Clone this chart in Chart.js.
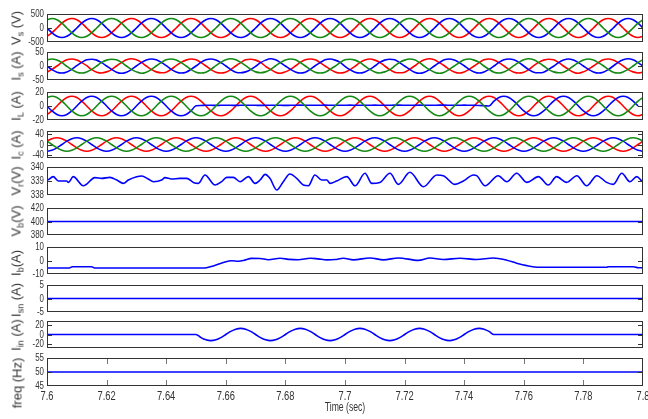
<!DOCTYPE html>
<html>
<head>
<meta charset="utf-8">
<script src="https://cdn.jsdelivr.net/npm/chart.js@4.4.0/dist/chart.umd.min.js"></script>
<style>
  body { margin: 0; background: #fff; width: 648px; height: 419px; position: relative; overflow: hidden; }
  canvas { position: absolute; left: 0; }
  .ylab { position: absolute; transform: translate(-50%, -50%) rotate(-90deg); white-space: nowrap;
          font: 13px "Liberation Sans", Arial, sans-serif; color: #333; }
  .ylab sub { font-size: 9px; vertical-align: -3px; }
</style>
</head>
<body>
<script>
// ---- data ----
const xTicks = [7.6, 7.62, 7.64, 7.66, 7.68, 7.7, 7.72, 7.74, 7.76, 7.78, 7.8];

// three-phase traces are sampled every 1/600 s (121 samples, 7.6 .. 7.8)
const tGrid = Array.from({length: 121}, (_, i) => 7.6 + i / 600);

const vsRed = [
  -294,-170,0,170,294,339,294,170,0,-170,-294,-339,
  -294,-170,0,170,294,339,294,170,0,-170,-294,-339,
  -294,-170,0,170,294,339,294,170,0,-170,-294,-339,
  -294,-170,0,170,294,339,294,170,0,-170,-294,-339,
  -294,-170,0,170,294,339,294,170,0,-170,-294,-339,
  -294,-170,0,170,294,339,294,170,0,-170,-294,-339,
  -294,-170,0,170,294,339,294,170,0,-170,-294,-339,
  -294,-170,0,170,294,339,294,170,0,-170,-294,-339,
  -294,-170,0,170,294,339,294,170,0,-170,-294,-339,
  -294,-170,0,170,294,339,294,170,0,-170,-294,-339,
  -294];
const vsGreen = [
  294,339,294,170,0,-170,-294,-339,-294,-170,0,170,
  294,339,294,170,0,-170,-294,-339,-294,-170,0,170,
  294,339,294,170,0,-170,-294,-339,-294,-170,0,170,
  294,339,294,170,0,-170,-294,-339,-294,-170,0,170,
  294,339,294,170,0,-170,-294,-339,-294,-170,0,170,
  294,339,294,170,0,-170,-294,-339,-294,-170,0,170,
  294,339,294,170,0,-170,-294,-339,-294,-170,0,170,
  294,339,294,170,0,-170,-294,-339,-294,-170,0,170,
  294,339,294,170,0,-170,-294,-339,-294,-170,0,170,
  294,339,294,170,0,-170,-294,-339,-294,-170,0,170,
  294];
const vsBlue = [
  0,-170,-294,-339,-294,-170,0,170,294,339,294,170,
  0,-170,-294,-339,-294,-170,0,170,294,339,294,170,
  0,-170,-294,-339,-294,-170,0,170,294,339,294,170,
  0,-170,-294,-339,-294,-170,0,170,294,339,294,170,
  0,-170,-294,-339,-294,-170,0,170,294,339,294,170,
  0,-170,-294,-339,-294,-170,0,170,294,339,294,170,
  0,-170,-294,-339,-294,-170,0,170,294,339,294,170,
  0,-170,-294,-339,-294,-170,0,170,294,339,294,170,
  0,-170,-294,-339,-294,-170,0,170,294,339,294,170,
  0,-170,-294,-339,-294,-170,0,170,294,339,294,170,
  0];

const isRed = [
  -22,-12,0,13,22,25,21,12,1,-13,-22,-25,
  -21,-13,0,12,22,26,22,13,0,-12,-21,-24,
  -22,-12,1,13,21,25,22,12,0,-13,-22,-25,
  -22,-13,0,12,22,24,21,13,-1,-12,-22,-26,
  -21,-12,0,13,22,25,22,12,0,-12,-21,-25,
  -22,-13,-1,12,21,25,21,13,0,-13,-22,-24,
  -22,-12,0,13,22,26,22,12,1,-12,-21,-25,
  -21,-12,0,12,22,25,21,12,0,-13,-22,-25,
  -22,-13,1,13,21,24,22,13,0,-12,-22,-26,
  -21,-12,0,12,22,25,21,12,0,-13,-21,-25,
  -22];
const isGreen = [
  22,25,21,12,-1,-13,-22,-25,-21,-12,0,13,
  21,24,22,13,0,-12,-21,-26,-22,-13,0,12,
  22,25,21,12,0,-13,-22,-25,-22,-12,1,13,
  22,26,22,13,1,-12,-21,-24,-21,-13,0,12,
  21,25,22,12,0,-13,-22,-25,-22,-12,-1,12,
  22,24,21,13,0,-12,-21,-25,-21,-13,0,13,
  21,25,22,12,-1,-13,-22,-26,-22,-12,0,12,
  22,25,21,13,0,-12,-22,-25,-21,-12,1,13,
  22,26,22,12,0,-13,-21,-24,-22,-13,0,12,
  21,25,21,12,1,-12,-22,-25,-21,-12,0,13,
  22];
const isBlue = [
  0,-13,-22,-25,-21,-12,1,13,22,24,21,12,
  0,-12,-22,-26,-22,-13,0,12,21,25,22,13,
  1,-12,-21,-25,-22,-12,0,13,22,25,21,12,
  0,-13,-22,-24,-21,-13,-1,12,21,26,22,12,
  0,-12,-21,-25,-22,-12,1,12,22,25,21,13,
  -1,-13,-22,-25,-21,-12,0,13,21,24,22,12,
  0,-12,-22,-26,-22,-13,0,12,22,25,21,12,
  1,-12,-21,-25,-21,-12,0,13,22,25,22,13,
  0,-13,-22,-24,-22,-12,-1,12,21,25,21,12,
  0,-12,-21,-25,-22,-13,0,13,22,26,22,12,
  0];

const ilRed = [
  -12.1,-7,0,7,12.1,14,12.1,7,0,-7,-12.1,-14,
  -12.1,-7,0,7,12.1,14,12.1,7,0,-7,-12.1,-14,
  -12.1,-7,0,7,12.1,14,12.1,7,0,-7,-12.1,-14,
  -12.1,-7,0,7,12.1,14,12.1,7,0,-7,-12.1,-14,
  -12.1,-7,0,7,12.1,14,12.1,7,0,-7,-12.1,-14,
  -12.1,-7,0,7,12.1,14,12.1,7,0,-7,-12.1,-14,
  -12.1,-7,0,7,12.1,14,12.1,7,0,-7,-12.1,-14,
  -12.1,-7,0,7,12.1,14,12.1,7,0,-7,-12.1,-14,
  -12.1,-7,0,7,12.1,14,12.1,7,0,-7,-12.1,-14,
  -12.1,-7,0,7,12.1,14,12.1,7,0,-7,-12.1,-14,
  -12.1];
const ilGreen = [
  12.1,14,12.1,7,0,-7,-12.1,-14,-12.1,-7,0,7,
  12.1,14,12.1,7,0,-7,-12.1,-14,-12.1,-7,0,7,
  12.1,14,12.1,7,0,-7,-12.1,-14,-12.1,-7,0,7,
  12.1,14,12.1,7,0,-7,-12.1,-14,-12.1,-7,0,7,
  12.1,14,12.1,7,0,-7,-12.1,-14,-12.1,-7,0,7,
  12.1,14,12.1,7,0,-7,-12.1,-14,-12.1,-7,0,7,
  12.1,14,12.1,7,0,-7,-12.1,-14,-12.1,-7,0,7,
  12.1,14,12.1,7,0,-7,-12.1,-14,-12.1,-7,0,7,
  12.1,14,12.1,7,0,-7,-12.1,-14,-12.1,-7,0,7,
  12.1,14,12.1,7,0,-7,-12.1,-14,-12.1,-7,0,7,
  12.1];
// blue load phase is open between 7.65 s and 7.75 s
const ilBlue = [
  0,-7,-12.1,-14,-12.1,-7,0,7,12.1,14,12.1,7,
  0,-7,-12.1,-14,-12.1,-7,0,7,12.1,14,12.1,7,
  0,-7,-12.1,-14,-12.1,-7,
  0.4,0.8,1,1,0.9,1,1.1,1,0.9,1,1,1.1,
  1,0.9,1,1.1,1,1,0.9,1,1.1,1.2,1.1,1,
  1,1.1,1.2,1.1,1,1,1.1,1.2,1.1,1,1,1.1,
  1.2,1.1,1,1.1,1.2,1.2,1.1,1,1.1,1.2,1.1,1,
  1.1,1.2,1.2,1.1,1,1.1,1.2,1.1,1,0.8,0.4,0,
  7,12.1,14,12.1,7,
  0,-7,-12.1,-14,-12.1,-7,0,7,12.1,14,12.1,7,
  0,-7,-12.1,-14,-12.1,-7,0,7,12.1,14,12.1,7,
  0];

const icRed = [
  12.5,21.7,25,21.7,12.5,0,-12.5,-21.7,-25,-21.7,-12.5,0,
  12.5,21.7,25,21.7,12.5,0,-12.5,-21.7,-25,-21.7,-12.5,0,
  12.5,21.7,25,21.7,12.5,0,-12.5,-21.7,-25,-21.7,-12.5,0,
  12.5,21.7,25,21.7,12.5,0,-12.5,-21.7,-25,-21.7,-12.5,0,
  12.5,21.7,25,21.7,12.5,0,-12.5,-21.7,-25,-21.7,-12.5,0,
  12.5,21.7,25,21.7,12.5,0,-12.5,-21.7,-25,-21.7,-12.5,0,
  12.5,21.7,25,21.7,12.5,0,-12.5,-21.7,-25,-21.7,-12.5,0,
  12.5,21.7,25,21.7,12.5,0,-12.5,-21.7,-25,-21.7,-12.5,0,
  12.5,21.7,25,21.7,12.5,0,-12.5,-21.7,-25,-21.7,-12.5,0,
  12.5,21.7,25,21.7,12.5,0,-12.5,-21.7,-25,-21.7,-12.5,0,
  12.5];
const icGreen = [
  12.5,0,-12.5,-21.7,-25,-21.7,-12.5,0,12.5,21.7,25,21.7,
  12.5,0,-12.5,-21.7,-25,-21.7,-12.5,0,12.5,21.7,25,21.7,
  12.5,0,-12.5,-21.7,-25,-21.7,-12.5,0,12.5,21.7,25,21.7,
  12.5,0,-12.5,-21.7,-25,-21.7,-12.5,0,12.5,21.7,25,21.7,
  12.5,0,-12.5,-21.7,-25,-21.7,-12.5,0,12.5,21.7,25,21.7,
  12.5,0,-12.5,-21.7,-25,-21.7,-12.5,0,12.5,21.7,25,21.7,
  12.5,0,-12.5,-21.7,-25,-21.7,-12.5,0,12.5,21.7,25,21.7,
  12.5,0,-12.5,-21.7,-25,-21.7,-12.5,0,12.5,21.7,25,21.7,
  12.5,0,-12.5,-21.7,-25,-21.7,-12.5,0,12.5,21.7,25,21.7,
  12.5,0,-12.5,-21.7,-25,-21.7,-12.5,0,12.5,21.7,25,21.7,
  12.5];
const icBlue = [
  -25,-21.7,-12.5,0,12.5,21.7,25,21.7,12.5,0,-12.5,-21.7,
  -25,-21.7,-12.5,0,12.5,21.7,25,21.7,12.5,0,-12.5,-21.7,
  -25,-21.7,-12.5,0,12.5,21.7,25,21.7,12.5,0,-12.5,-21.7,
  -25,-21.7,-12.5,0,12.5,21.7,25,21.7,12.5,0,-12.5,-21.7,
  -25,-21.7,-12.5,0,12.5,21.7,25,21.7,12.5,0,-12.5,-21.7,
  -25,-21.7,-12.5,0,12.5,21.7,25,21.7,12.5,0,-12.5,-21.7,
  -25,-21.7,-12.5,0,12.5,21.7,25,21.7,12.5,0,-12.5,-21.7,
  -25,-21.7,-12.5,0,12.5,21.7,25,21.7,12.5,0,-12.5,-21.7,
  -25,-21.7,-12.5,0,12.5,21.7,25,21.7,12.5,0,-12.5,-21.7,
  -25,-21.7,-12.5,0,12.5,21.7,25,21.7,12.5,0,-12.5,-21.7,
  -25];

// load neutral current, on the same grid
const iinVals = [
  0,0,0,0,0,0,0,0,0,0,0,0,
  0,0,0,0,0,0,0,0,0,0,0,0,
  0,0,0,0,0,0,
  0,-6.3,-10.8,-12.5,-10.8,-6.3,0,6.3,10.8,12.5,10.8,6.3,
  0,-6.3,-10.8,-12.5,-10.8,-6.3,0,6.3,10.8,12.5,10.8,6.3,
  0,-6.3,-10.8,-12.5,-10.8,-6.3,0,6.3,10.8,12.5,10.8,6.3,
  0,-6.3,-10.8,-12.5,-10.8,-6.3,0,6.3,10.8,12.5,10.8,6.3,
  0,-6.3,-10.8,-12.5,-10.8,-6.3,0,6.3,10.8,12.5,10.8,6.3,
  0,0,0,0,0,0,
  0,0,0,0,0,0,0,0,0,0,0,0,
  0,0,0,0,0,0,0,0,0,0,0,0,
  0];

const vrTime = [7.6004,7.6021,7.6038,7.6066,7.6072,7.6088,7.6122,7.6161,7.6184,7.6211,7.6234,7.6256,
  7.6273,7.6301,7.6318,7.634,7.6357,7.6385,7.6396,7.6418,7.6446,7.6469,7.6491,7.6508,7.653,7.6564,
  7.6586,7.6603,7.6625,7.6648,7.6676,7.6698,7.6715,7.6732,7.6748,7.6771,7.6793,7.6815,7.6838,7.686,
  7.6877,7.6899,7.6922,7.6939,7.695,7.6972,7.7006,7.7034,7.7067,7.709,7.7117,7.7151,7.7179,7.7218,
  7.7263,7.7308,7.733,7.7369,7.7397,7.7431,7.7442,7.747,7.7514,7.7543,7.7576,7.761,7.7649,7.7682,
  7.771,7.7744,7.7778,7.7811,7.7845,7.7878,7.79,7.7929,7.7956,7.7979,7.7996];
const vrVals = [339.07,339.31,339.0,339.0,338.9,339.31,338.66,339.24,339.19,339.26,339.07,338.83,
  339.07,339.31,339.36,339.14,338.95,339.07,339.24,339.14,339.19,339.19,338.9,338.83,339.43,338.71,
  338.95,339.26,339.26,338.95,339.31,338.83,339.07,339.47,339.19,338.36,338.95,339.5,339.19,338.71,
  338.66,339.43,339.07,339.07,338.83,339.0,339.31,338.66,339.55,338.83,338.9,339.55,338.76,339.62,
  338.59,339.43,339.38,338.76,339.0,339.43,339.38,338.66,339.38,338.95,339.55,338.9,339.31,338.71,
  339.31,338.9,339.38,338.66,339.38,338.9,338.76,339.55,338.95,339.31,339.0];

const vbTime = [7.6, 7.8];
const vbVals = [400, 400];

const ibTime = [7.6,7.6075,7.6085,7.615,7.616,7.653,7.6558,7.6592,7.662,7.6642,7.6659,7.6687,7.6715,
  7.6743,7.6782,7.6815,7.6843,7.6883,7.691,7.6939,7.6966,7.6994,7.7028,7.7084,7.7129,7.7179,7.7246,
  7.7285,7.733,7.7386,7.7442,7.7498,7.7543,7.7576,7.761,7.7654,7.7878,7.7884,7.7968,7.7984,7.8];
const ibVals = [-5.5,-5.5,-4.6,-4.6,-5.5,-5.5,-4.0,-1.5,-0.2,-0.5,0.0,1.6,1.5,
  0.6,1.7,0.8,0.6,1.7,1.2,0.5,0.7,1.7,0.5,1.9,0.5,1.9,0.1,
  1.8,0.7,1.7,0.7,1.9,0.2,-2.0,-3.8,-5.0,-5.0,-4.6,-4.6,-5.4,-5.4];

const isnTime = [7.6, 7.8];
const isnVals = [0, 0];
const freqTime = [7.6, 7.8];
const freqVals = [50, 50];

const vsTicks = [-500, 0, 500];
const isTicks = [-50, 0, 50];
const ilTicks = [-20, 0, 20];
const icTicks = [-40, 0, 40];
const vrTicks = [338, 339, 340];
const vbTicks = [380, 400, 420];
const ibTicks = [-10, 0, 10];
const isnTicks = [-5, 0, 5];
const iinTicks = [-20, 0, 20];
const freqTicks = [45, 50, 55];

// ---- drawing ----
const RED = '#ff0000', GREEN = '#138a13', BLUE = '#0000ff';
const PLOT_L = 47, PLOT_R = 643, PAD = 9, XAXIS_H = 33;
const TXT = '#333';

const panels = [
  {box: [14, 42], min: -500, max: 500, ticks: vsTicks, lab: 'V<sub>s</sub> (V)', labY: 28,
   lines: [[tGrid, vsGreen, GREEN], [tGrid, vsBlue, BLUE], [tGrid, vsRed, RED]]},
  {box: [52, 80], min: -50, max: 50, ticks: isTicks, lab: 'I<sub>s</sub> (A)', labY: 66,
   lines: [[tGrid, isGreen, GREEN], [tGrid, isBlue, BLUE], [tGrid, isRed, RED]]},
  {box: [92, 120], min: -20, max: 20, ticks: ilTicks, lab: 'I<sub>L</sub> (A)', labY: 106,
   lines: [[tGrid, ilGreen, GREEN], [tGrid, ilBlue, BLUE], [tGrid, ilRed, RED]]},
  {box: [131, 158], min: -50, max: 50, ticks: icTicks, lab: 'I<sub>c</sub> (A)', labY: 145,
   lines: [[tGrid, icGreen, GREEN], [tGrid, icBlue, BLUE], [tGrid, icRed, RED]]},
  {box: [167, 195], min: 338, max: 340, ticks: vrTicks, lab: 'V<sub>r</sub>(V)', labY: 181,
   lines: [[vrTime, vrVals, BLUE]]},
  {box: [208, 235], min: 380, max: 420, ticks: vbTicks, lab: 'V<sub>b</sub>(V)', labY: 221,
   lines: [[vbTime, vbVals, BLUE]]},
  {box: [247, 274], min: -10, max: 10, ticks: ibTicks, lab: 'I<sub>b</sub>(A)', labY: 263,
   lines: [[ibTime, ibVals, BLUE]]},
  {box: [285, 312], min: -5, max: 5, ticks: isnTicks, lab: 'I<sub>sn</sub> (A)', labY: 300,
   lines: [[isnTime, isnVals, BLUE]]},
  {box: [321, 348], min: -27.5, max: 27.5, ticks: iinTicks, lab: 'I<sub>in</sub> (A)', labY: 335,
   lines: [[tGrid, iinVals, BLUE]]},
  {box: [358, 386], min: 45, max: 55, ticks: freqTicks, lab: 'freq (Hz)', labY: 383,
   lines: [[freqTime, freqVals, BLUE]], last: true}
];

// condensed label text, like the narrow font of the original
function narrowText(ctx, txt, x, y, size, align) {
  ctx.save();
  ctx.font = size + 'px "Liberation Sans", Arial, sans-serif';
  ctx.fillStyle = TXT;
  ctx.textBaseline = 'middle';
  ctx.textAlign = align;
  ctx.translate(x, y);
  ctx.scale(0.72, 1);
  ctx.fillText(txt, 0, 0);
  ctx.restore();
}

// box, inward ticks and tick labels of one panel
const frame = {
  id: 'frame',
  afterDraw(chart, args, o) {
    const {ctx, chartArea: a} = chart;
    const ys = chart.scales.y, xs = chart.scales.x;
    ctx.save();
    ctx.strokeStyle = '#333';
    ctx.lineWidth = 1;
    ctx.beginPath();
    o.yTicks.forEach(v => {
      const py = ys.getPixelForValue(v);
      narrowText(ctx, String(v), a.left - 3, py, 11, 'right');
      const y = Math.round(py) + 0.5;
      if (y < a.top + 2 || y > a.bottom - 2) return;
      ctx.moveTo(a.left, y); ctx.lineTo(a.left + 5, y);
      ctx.moveTo(a.right - 5, y); ctx.lineTo(a.right, y);
    });
    ctx.stroke();
    if (o.xTicks) {
      ctx.strokeStyle = '#777';
      ctx.beginPath();
      o.xTicks.forEach(v => {
        const px = xs.getPixelForValue(v);
        narrowText(ctx, String(v), px, a.bottom + 10, 13, 'center');
        const x = Math.round(px) + 0.5;
        if (x < a.left + 2 || x > a.right - 2) return;
        ctx.moveTo(x, a.top); ctx.lineTo(x, a.top + 6);
        ctx.moveTo(x, a.bottom); ctx.lineTo(x, a.bottom - 6);
      });
      ctx.stroke();
      narrowText(ctx, 'Time (sec)', (a.left + a.right) / 2, a.bottom + 22, 12, 'center');
    }
    ctx.strokeStyle = '#333';
    ctx.strokeRect(Math.round(a.left) + 0.5, Math.round(a.top) + 0.5,
                   Math.round(a.right - a.left) - 1, Math.round(a.bottom - a.top) - 1);
    ctx.restore();
  }
};

panels.forEach(p => {
  const top = p.box[0] - PAD;
  const h = p.box[1] - p.box[0] + PAD + (p.last ? XAXIS_H : PAD);
  const cv = document.createElement('canvas');
  cv.width = 648; cv.height = h;
  cv.style.top = top + 'px';
  document.body.appendChild(cv);

  const lab = document.createElement('div');
  lab.className = 'ylab';
  lab.innerHTML = p.lab;
  lab.style.left = '17px';
  lab.style.top = p.labY + 'px';
  document.body.appendChild(lab);

  new Chart(cv, {
    type: 'line',
    data: {
      datasets: p.lines.map(([ts, vs, col]) => ({
        data: vs.map((v, i) => ({x: ts[i], y: v})),
        borderColor: col,
        borderWidth: 1.6,
        pointRadius: 0,
        cubicInterpolationMode: 'monotone',
        fill: false
      }))
    },
    options: {
      responsive: false,
      animation: false,
      events: [],
      layout: {padding: {top: PAD, bottom: p.last ? XAXIS_H : PAD, left: PLOT_L, right: 648 - PLOT_R}},
      plugins: {
        legend: {display: false},
        tooltip: {enabled: false},
        frame: {yTicks: p.ticks, xTicks: p.last ? xTicks : null}
      },
      scales: {
        x: {type: 'linear', min: 7.6, max: 7.8, display: false},
        y: {min: p.min, max: p.max, display: false}
      }
    },
    plugins: [frame]
  });
});
</script>
</body>
</html>
